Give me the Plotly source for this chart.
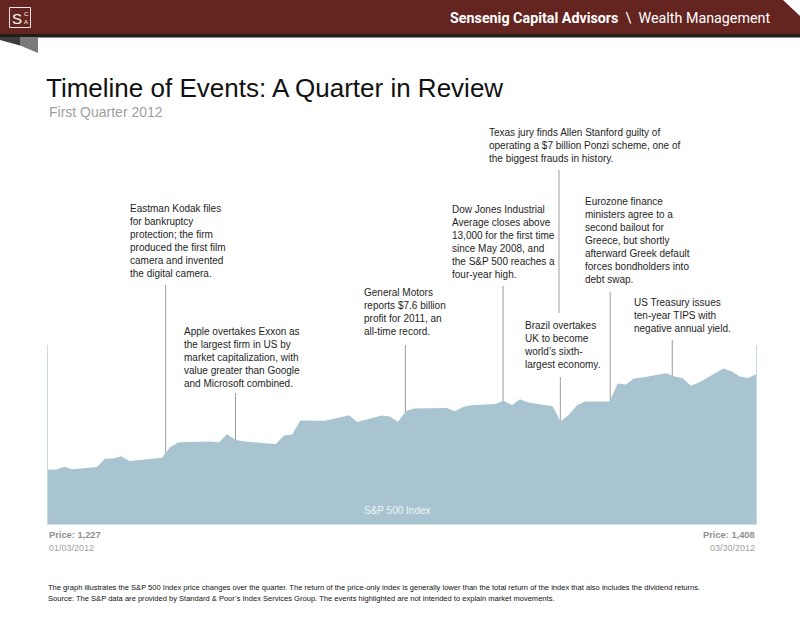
import plotly.graph_objects as go

# ---------------- data ----------------
dates = [
    "2012-01-03", "2012-01-04", "2012-01-05", "2012-01-06", "2012-01-09", "2012-01-10",
    "2012-01-11", "2012-01-12", "2012-01-13", "2012-01-17", "2012-01-18", "2012-01-19",
    "2012-01-20", "2012-01-23", "2012-01-24", "2012-01-25", "2012-01-26", "2012-01-27",
    "2012-01-30", "2012-01-31", "2012-02-01", "2012-02-02", "2012-02-03", "2012-02-06",
    "2012-02-07", "2012-02-08", "2012-02-09", "2012-02-10", "2012-02-13", "2012-02-14",
    "2012-02-15", "2012-02-16", "2012-02-17", "2012-02-21", "2012-02-22", "2012-02-23",
    "2012-02-24", "2012-02-27", "2012-02-28", "2012-02-29", "2012-03-01", "2012-03-02",
    "2012-03-05", "2012-03-06", "2012-03-07", "2012-03-08", "2012-03-09", "2012-03-12",
    "2012-03-13", "2012-03-14", "2012-03-15", "2012-03-16", "2012-03-19", "2012-03-20",
    "2012-03-21", "2012-03-22", "2012-03-23", "2012-03-26", "2012-03-27", "2012-03-28",
    "2012-03-29", "2012-03-30",
]
closes = [
    1277.06, 1277.30, 1281.06, 1277.81, 1280.70, 1292.08,
    1292.48, 1295.50, 1289.09, 1293.67, 1308.04, 1314.50,
    1315.38, 1316.00, 1314.65, 1326.06, 1318.43, 1316.33,
    1313.01, 1312.41, 1324.09, 1325.54, 1344.90, 1344.33,
    1347.05, 1349.96, 1351.95, 1342.64, 1351.77, 1350.50,
    1343.23, 1358.04, 1361.23, 1362.21, 1357.66, 1363.46,
    1365.74, 1367.59, 1372.18, 1365.68, 1374.09, 1369.63,
    1364.33, 1343.36, 1352.63, 1365.91, 1370.87, 1371.09,
    1395.95, 1394.28, 1402.60, 1404.17, 1409.75, 1405.52,
    1402.89, 1392.78, 1397.11, 1416.51, 1412.52, 1405.54,
    1403.28, 1408.47,
]

event_dates = [
    "2012-01-17 11:00", "2012-01-26 01:00", "2012-02-15 22:00", "2012-02-27 22:00",
    "2012-03-05 19:00", "2012-03-05 23:00", "2012-03-12 02:00", "2012-03-19 17:00",
]
event_texts = [
    "Eastman Kodak files<br>for bankruptcy<br>protection; the firm<br>produced the first film<br>camera and invented<br>the digital camera.",
    "Apple overtakes Exxon as<br>the largest firm in US by<br>market capitalization, with<br>value greater than Google<br>and Microsoft combined.",
    "General Motors<br>reports $7.6 billion<br>profit for 2011, an<br>all-time record.",
    "Dow Jones Industrial<br>Average closes above<br>13,000 for the first time<br>since May 2008, and<br>the S&P 500 reaches a<br>four-year high.",
    "Texas jury finds Allen Stanford guilty of<br>operating a $7 billion Ponzi scheme, one of<br>the biggest frauds in history.",
    "Brazil overtakes<br>UK to become<br>world\u2019s sixth-<br>largest economy.",
    "Eurozone finance<br>ministers agree to a<br>second bailout for<br>Greece, but shortly<br>afterward Greek default<br>forces bondholders into<br>debt swap.",
    "US Treasury issues<br>ten-year TIPS with<br>negative annual yield.",
]

start_label = ["Price: 1,227", "01/03/2012"]
end_label = ["Price: 1,408", "03/30/2012"]

# ---------------- layout helpers (pixel -> paper) ----------------
W, H = 800, 618
L, R, T, B = 48, 756, 345, 524


def px(x):
    return (x - L) / (R - L)


def py(y):
    return (B - y) / (B - T)


# text block: (left x, mid y); leader line: (top y, bottom y)
text_pos = [(129, 241), (183, 357), (363, 311.5), (451, 242),
            (488, 146), (522.5, 344.5), (584, 240.5), (632.5, 315.5)]
line_span = [(285, B), (393, B), (345, B), (286, B),
             (170, 313), (377, B), (292, B), (340, B)]

FONT = "Liberation Sans, Arial, sans-serif"
NARROW = "Liberation Sans Narrow, Arial Narrow, Liberation Sans, Arial, sans-serif"

fig = go.Figure()
fig.add_trace(go.Scatter(
    x=dates, y=closes, mode="lines", line=dict(width=0, color="#A7C4D0"),
    fill="tozeroy", fillcolor="#A7C4D0", hoverinfo="skip", showlegend=False,
))

shapes = []
annotations = []

# event leader lines
for d, (ytop, ybot) in zip(event_dates, line_span):
    shapes.append(dict(type="line", xref="x", yref="paper", x0=d, x1=d,
                       y0=py(ybot), y1=py(ytop), layer="below",
                       line=dict(color="#9C9C9C", width=1)))

# event texts
for txt, (tx, ty) in zip(event_texts, text_pos):
    annotations.append(dict(text=txt, xref="paper", yref="paper", x=px(tx - 1), y=py(ty),
                            xanchor="left", yanchor="middle", align="left", showarrow=False,
                            font=dict(family=FONT, size=10, color="#1E1E1E")))

# header band with cut corner
hdr = [(0, 0), (783, 0), (800, 16), (800, 34), (0, 34)]
shapes.append(dict(type="path", xref="paper", yref="paper", layer="above",
                   path="M " + " L ".join(f"{px(a)},{py(b)}" for a, b in hdr) + " Z",
                   fillcolor="#642420", line=dict(width=0)))
shapes.append(dict(type="rect", xref="paper", yref="paper", x0=px(0), x1=px(800),
                   y0=py(37.5), y1=py(34), fillcolor="#231C1C", line=dict(width=0)))
# folded ribbon under band
fold1 = [(0, 37), (20, 37), (20, 45.5), (0, 40)]
fold2 = [(20, 37), (38, 37), (38, 53), (20, 45.5)]
for poly, col in ((fold1, "#3C3C3C"), (fold2, "#7A7A7A")):
    shapes.append(dict(type="path", xref="paper", yref="paper",
                       path="M " + " L ".join(f"{px(a)},{py(b)}" for a, b in poly) + " Z",
                       fillcolor=col, line=dict(width=0)))
# logo box
shapes.append(dict(type="rect", xref="paper", yref="paper", x0=px(9.5), x1=px(30.5),
                   y0=py(27.5), y1=py(7.5), line=dict(color="#F2E6E4", width=1),
                   fillcolor="rgba(0,0,0,0)"))
annotations += [
    dict(text="S", xref="paper", yref="paper", x=px(16.5), y=py(18), showarrow=False,
         xanchor="center", yanchor="middle", font=dict(family=FONT, size=15, color="white")),
    dict(text="C", xref="paper", yref="paper", x=px(26), y=py(13.5), showarrow=False,
         xanchor="center", yanchor="middle", font=dict(family=FONT, size=6, color="white")),
    dict(text="A", xref="paper", yref="paper", x=px(26), y=py(22), showarrow=False,
         xanchor="center", yanchor="middle", font=dict(family=FONT, size=6, color="white")),
    dict(text="<b>Sensenig Capital Advisors</b>  \\  Wealth Management", xref="paper",
         yref="paper", x=px(772), y=py(17.5), showarrow=False, xanchor="right",
         yanchor="middle", font=dict(family="Roboto, sans-serif", size=14.3, color="white")),
]

# titles
annotations += [
    dict(text="Timeline of Events: A Quarter in Review", xref="paper", yref="paper",
         x=px(44), y=py(88), xanchor="left", yanchor="middle", showarrow=False,
         font=dict(family=FONT, size=26, color="#111111")),
    dict(text="First Quarter 2012", xref="paper", yref="paper", x=px(47), y=py(112),
         xanchor="left", yanchor="middle", showarrow=False,
         font=dict(family=FONT, size=14, color="#A0A0A0")),
    dict(text="S&P 500 Index", xref="paper", yref="paper", x=px(397), y=py(510),
         xanchor="center", yanchor="middle", showarrow=False,
         font=dict(family=NARROW, size=10, color="#EEF4F6")),
]

# price / date labels
annotations += [
    dict(text="<b>" + start_label[0] + "</b>", xref="paper", yref="paper", x=px(47), y=py(535),
         xanchor="left", yanchor="middle", showarrow=False,
         font=dict(family=NARROW, size=9.3, color="#8E8E8E")),
    dict(text=start_label[1], xref="paper", yref="paper", x=px(47), y=py(548),
         xanchor="left", yanchor="middle", showarrow=False,
         font=dict(family=NARROW, size=9, color="#A0A0A0")),
    dict(text="<b>" + end_label[0] + "</b>", xref="paper", yref="paper", x=px(757), y=py(535),
         xanchor="right", yanchor="middle", showarrow=False,
         font=dict(family=NARROW, size=9.3, color="#8E8E8E")),
    dict(text=end_label[1], xref="paper", yref="paper", x=px(757), y=py(548),
         xanchor="right", yanchor="middle", showarrow=False,
         font=dict(family=NARROW, size=9, color="#A0A0A0")),
]

# footer
annotations += [
    dict(text="The graph illustrates the S&P 500 Index price changes over the quarter. The return of the price-only index is generally lower than the total return of the index that also includes the dividend returns.",
         xref="paper", yref="paper", x=px(46), y=py(587), xanchor="left", yanchor="middle",
         showarrow=False, font=dict(family=NARROW, size=7.55, color="#111111")),
    dict(text="Source: The S&P data are provided by Standard & Poor\u2019s Index Services Group. The events highlighted are not intended to explain market movements.",
         xref="paper", yref="paper", x=px(46), y=py(598), xanchor="left", yanchor="middle",
         showarrow=False, font=dict(family=NARROW, size=7.55, color="#111111")),
]

fig.update_layout(
    width=W, height=H,
    margin=dict(l=L, r=W - R, t=T, b=H - B, pad=0),
    paper_bgcolor="white", plot_bgcolor="white",
    showlegend=False,
    xaxis=dict(range=["2012-01-03", "2012-03-30"], showgrid=False, zeroline=False,
               showticklabels=False, ticks="", showline=True, linecolor="#D3E0E8",
               linewidth=1, fixedrange=True),
    yaxis=dict(range=[1202.3, 1448.8], showgrid=False, zeroline=False,
               showticklabels=False, ticks="", showline=True, mirror=True,
               linecolor="#C9D9E3", linewidth=1, fixedrange=True),
    shapes=shapes,
    annotations=annotations,
)

fig.write_html("out.html", config={"displayModeBar": False},
               post_script="document.body.style.margin='0';document.body.style.overflow='hidden';")
